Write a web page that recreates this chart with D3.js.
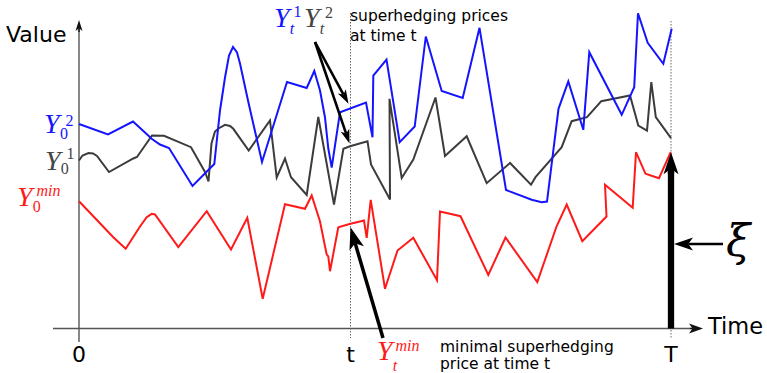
<!DOCTYPE html>
<html><head><meta charset="utf-8">
<script src="https://cdn.jsdelivr.net/npm/d3@7"></script>
<style>html,body{margin:0;padding:0;background:#fff;overflow:hidden}</style>
</head><body><svg id="c" width="767" height="373"></svg>
<script>
// ---------- data (time units: 0..T, value units: 0 at time axis) ----------
const T_END = 592;
const T_MARK = 271.5;
const tickTimes = [0, T_MARK, T_END];
const tickLabels = ["0", "t", "T"];
const axisTitleX = "Time";
const axisTitleY = "Value";

// superhedging price process Y^2 (blue)
const seriesBlue = [[0,204.5],[29,194],[54,207],[73,189.5],[81,184],[90,180.5],[113.5,142.5],[135.3,164.5],[141,218],[146,251],[150,273],[154,281.5],[158,276],[161,265],[169,228],[183,166.5],[208,246.5],[227.7,240.5],[235.3,257.5],[241,238],[246,211],[249.3,180],[252.7,161],[261,216.3],[287,226],[293.5,191.3],[294.3,253],[307.5,269],[320.7,186.3],[335.7,202],[346.8,292],[362.7,237.5],[383.7,230.5],[400.5,300.7],[427,138.5],[452.7,128.7],[462.7,126.3],[468,127],[479.5,219.7],[489.3,247],[504.3,198.7],[510.3,276.3],[542.7,213.7],[555.2,241.3],[559,315.3],[568.7,285.7],[584.3,264.7],[592.7,299.7]];

// superhedging price process Y^1 (dark grey)
const seriesGrey = [[0,168],[3.5,173],[9.5,175.5],[14,175],[18,172.5],[30,156.5],[54.3,170],[58,171.5],[73,193],[85,192.7],[112,181.3],[126,156.5],[129.5,147],[132.5,185],[136,197],[139.5,200],[146,203.7],[151,202.5],[154.3,199.7],[169.7,178],[191,208],[197.7,151],[206,170],[212,151.3],[227.7,133.5],[239.3,211.5],[255,124],[264.4,179.7],[271,182.3],[288.5,187.3],[292,164],[311,129],[310.5,229.7],[322.7,150.5],[334.3,169],[356.5,231],[366,172.5],[387.7,192.2],[407.7,145.3],[431,165.5],[452,143.8],[456.5,151.3],[482.7,181.3],[492.7,207.3],[508,211.3],[522.3,227.3],[551,233],[559.3,203],[568,198],[572.3,246.3],[576.8,211.3],[592,190.3]];

// minimal superhedging price Y^min (red)
const seriesRed = [[0,127.3],[34.3,91.3],[46.7,79.7],[61,102],[67.7,111.3],[72.7,114.7],[76,114],[99.3,81.3],[127.7,117.3],[152,79],[168.3,110.7],[183.7,29.7],[206,124.3],[226,119.7],[232.7,133],[241,107],[247.7,74],[249.3,72],[251,57.3],[259.3,101.3],[271.5,104.7],[285,108],[287.7,90.7],[291.7,128.7],[306,39.7],[318.5,78],[334.3,90.7],[358,48.3],[361,117],[381.5,112.3],[409.3,53.5],[426.5,91],[458.3,46.3],[477.5,102],[487.7,124],[503.3,87.3],[527.5,112],[526,143.7],[553.7,120.7],[557,176.3],[566.5,154.7],[580,150.3],[591.7,176.3]];

// terminal claim xi
const xiValue = 176.3;

// ---------- drawing ----------
const svg = d3.select("#c");
const x = d3.scaleLinear().domain([0, T_END]).range([79, 671]);
const y = d3.scaleLinear().domain([0, 300]).range([328.5, 28.5]);

const COL_BLUE = "#1414ff", COL_RED = "#ff1a1a", COL_GREY = "#3c3c3c";
const SANS = "DejaVu Sans, sans-serif";
const SERIF = "Liberation Serif, Times New Roman, serif";

function interp(series, t) {
  const i = d3.bisector(d => d[0]).left(series, t);
  if (i <= 0) return series[0][1];
  if (i >= series.length) return series[series.length-1][1];
  const a = series[i-1], b = series[i];
  return a[1] + (b[1]-a[1]) * (t - a[0]) / (b[0]-a[0]);
}

function arrow(x1, y1, x2, y2, lw, hl, hw, color) {
  const ang = Math.atan2(y2-y1, x2-x1);
  const c = Math.cos(ang), s = Math.sin(ang);
  const bx = x2 - hl*c, by = y2 - hl*s;
  const nx = x2 - hl*0.75*c, ny = y2 - hl*0.75*s;
  svg.append("line").attr("x1", x1).attr("y1", y1).attr("x2", nx).attr("y2", ny)
    .attr("stroke", color).attr("stroke-width", lw);
  const p = [[x2,y2],[bx - hw/2*s, by + hw/2*c],[nx, ny],[bx + hw/2*s, by - hw/2*c]];
  svg.append("path").attr("d", "M" + p.map(q => q.join(",")).join("L") + "Z").attr("fill", color);
}

// dotted guide lines at t and T
[T_MARK, T_END].forEach((t, i) => {
  svg.append("line").attr("x1", x(t)).attr("x2", x(t))
    .attr("y1", i === 0 ? 13 : 21).attr("y2", 338)
    .attr("stroke", "#444").attr("stroke-width", 0.8).attr("stroke-dasharray", "1.5,1.5");
});

// axes
svg.append("line").attr("x1", 53).attr("x2", 695).attr("y1", y(0)).attr("y2", y(0))
  .attr("stroke", "#555").attr("stroke-width", 1.4);
arrow(690, y(0), 703, y(0), 1.4, 14, 10, "#111");
svg.append("line").attr("x1", x(0)).attr("x2", x(0)).attr("y1", 342).attr("y2", 28)
  .attr("stroke", "#555").attr("stroke-width", 1.4);
arrow(x(0), 32, x(0), 20, 1.4, 11, 7, "#111");

svg.append("text").attr("x", 6).attr("y", 41.5).attr("font-family", SANS).attr("font-size", 22)
  .attr("fill", "#000").text(axisTitleY);
svg.append("text").attr("x", 708).attr("y", 333.5).attr("font-family", SANS).attr("font-size", 22.5)
  .attr("fill", "#000").text(axisTitleX);

tickTimes.forEach((t, i) => {
  svg.append("text").attr("x", x(t)).attr("y", 362).attr("text-anchor", "middle")
    .attr("font-family", SANS).attr("font-size", 22).attr("fill", "#000").text(tickLabels[i]);
});

// series
const line = d3.line().x(d => x(d[0])).y(d => y(d[1]));
[[seriesGrey, COL_GREY], [seriesBlue, COL_BLUE], [seriesRed, COL_RED]].forEach(([s, c]) => {
  svg.append("path").attr("d", line(s)).attr("fill", "none").attr("stroke", c)
    .attr("stroke-width", 2).attr("stroke-linejoin", "miter").attr("stroke-miterlimit", 4);
});

// terminal claim bar with arrow
svg.append("line").attr("x1", x(T_END)).attr("x2", x(T_END)).attr("y1", y(0)).attr("y2", y(xiValue) + 18)
  .attr("stroke", "#000").attr("stroke-width", 6.3);
arrow(x(T_END), y(xiValue) + 22, x(T_END), y(xiValue), 6.3, 22, 15, "#000");

// xi label + arrow
arrow(723, 244, 674, 244, 2.6, 19, 13, "#000");
svg.append("text").attr("x", 726).attr("y", 256).attr("font-family", "DejaVu Serif, serif").attr("font-style", "italic")
  .attr("font-size", 44).attr("fill", "#000").text("ξ");

// math labels
function mathY(xY, base, color, sup, supX, supBase, sub, subX, subBase, supItalic, subItalic) {
  const g = svg.append("g").attr("fill", color).attr("font-family", SERIF);
  g.append("text").attr("x", xY).attr("y", base).attr("font-style", "italic").attr("font-size", 28).text("Y");
  g.append("text").attr("x", supX).attr("y", supBase).attr("font-style", supItalic ? "italic" : "normal")
    .attr("font-size", 16).text(sup);
  g.append("text").attr("x", subX).attr("y", subBase).attr("font-style", subItalic ? "italic" : "normal")
    .attr("font-size", 16).text(sub);
}
mathY(44, 133, COL_BLUE, "2", 65.5, 126, "0", 60, 138.5, false, false);
mathY(45, 170, "#444", "1", 66.5, 158.5, "0", 60.8, 174, false, false);
mathY(17, 206, COL_RED, "min", 36.5, 196, "0", 32.8, 211.5, true, false);
mathY(274, 27, COL_BLUE, "1", 293.5, 17, "t", 289.8, 33.5, false, true);
mathY(304, 27, "#444", "2", 325, 17.5, "t", 319.8, 33.5, false, true);
mathY(377, 360, COL_RED, "min", 395.5, 350.5, "t", 392.8, 370.5, true, true);

// annotation texts
svg.append("text").attr("font-family", SANS).attr("font-size", 15.5).attr("fill", "#000")
  .selectAll("tspan").data(["superhedging prices", "at time t"]).join("tspan")
  .attr("x", 350).attr("y", (d, i) => 21 + i * 20).text(d => d);
svg.append("text").attr("font-family", SANS).attr("font-size", 15.5).attr("fill", "#000")
  .selectAll("tspan").data(["minimal superhedging", "price at time t"]).join("tspan")
  .attr("x", 440).attr("y", (d, i) => 351.5 + i * 17).text(d => d);

// arrows to the values at time t
const tipX = x(T_MARK) - 2;
arrow(315, 42, tipX, y(interp(seriesBlue, T_MARK)) - 4.5, 2.6, 14, 9, "#000");
arrow(315, 42, tipX + 1, y(interp(seriesGrey, T_MARK)) - 2.5, 2.6, 14, 9, "#000");
arrow(383, 338, x(T_MARK), y(interp(seriesRed, T_MARK)) + 3.5, 3.5, 22, 15, "#000");
</script></body></html>
